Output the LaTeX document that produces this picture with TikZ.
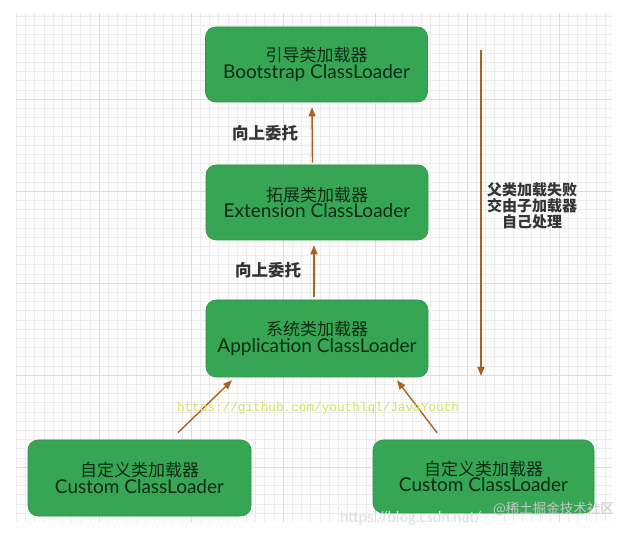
\documentclass[tikz,border=0pt]{standalone}
\usepackage{fontspec}
\setmainfont{Lato}
\newfontfamily\cjk{Noto Sans CJK SC}
\newfontfamily\monof{Liberation Mono}
\usetikzlibrary{arrows.meta}
\definecolor{boxgreen}{RGB}{54,166,84}
\definecolor{boxedge}{RGB}{44,150,72}
\definecolor{boxtext}{RGB}{16,42,22}
\definecolor{arrowc}{RGB}{168,98,38}
\definecolor{labeltext}{RGB}{52,52,52}
\definecolor{gridminor}{RGB}{236,236,236}
\definecolor{gridmajor}{RGB}{220,220,220}
\definecolor{ghcol}{RGB}{214,226,96}
\lineskiplimit=-100pt
\newcommand{\cnline}[1]{{\cjk\fontsize{17}{16.5}\selectfont #1}}
\begin{document}
\begin{tikzpicture}[x=1pt,y=-1pt,
  loaderbox/.style={draw=boxedge,fill=boxgreen,rounded corners=10pt,line width=0.6pt,
    minimum width=222pt,minimum height=75pt,inner sep=0pt,align=center,text=boxtext,
    font=\fontsize{19}{16.5}\selectfont},
  arr/.style={draw=arrowc,line width=1.4pt,-{Triangle[length=9pt,width=7pt]}},
  cnlabel/.style={text=labeltext,font=\cjk\fontsize{16.5}{16}\selectfont\bfseries,inner sep=0pt,align=center},
  minorline/.style={draw=gridminor,line width=0.4pt},
  majorline/.style={draw=gridmajor,line width=0.7pt}]
\useasboundingbox (0,0) rectangle (624,534);
\fill[white] (0,0) rectangle (624,534);
\fill[black!1] (16,13) rectangle (612,522);
\foreach \i in {1,...,65} {\draw[minorline] ({7+9.2*\i},13) -- ({7+9.2*\i},522);}
\foreach \j in {1,...,55} {\draw[minorline] (16,{7+9.2*\j}) -- (612,{7+9.2*\j});}
\foreach \i in {1,...,6} {\draw[majorline] ({7+92*\i},13) -- ({7+92*\i},522);}
\foreach \j in {1,...,5} {\draw[majorline] (16,{7+92*\j}) -- (612,{7+92*\j});}

\node[loaderbox] (boot) at (316.5,64.5) {\cnline{引导类加载器}\\Bootstrap ClassLoader};
\node[loaderbox] (ext) at (317,202.5) {\cnline{拓展类加载器}\\Extension ClassLoader};
\node[loaderbox,minimum height=77pt] (app) at (317,338.5) {\cnline{系统类加载器}\\Application ClassLoader};
\node[loaderbox,minimum width=223pt,minimum height=76pt] (cl) at (139.5,478) {\cnline{自定义类加载器}\\Custom ClassLoader};
\node[loaderbox,minimum width=221pt,minimum height=73pt] (cr) at (483.5,476.5) {\cnline{自定义类加载器}\\Custom ClassLoader};

\draw[arr] ([xshift=-4.5pt,yshift=2pt]ext.north) -- ([xshift=-4.5pt,yshift=-5pt]boot.south);
\draw[arr] ([xshift=-3pt,yshift=3pt]app.north) -- ([xshift=-3pt,yshift=-5pt]ext.south);
\draw[arr] ([xshift=38.5pt,yshift=7pt]cl.north) -- ([xshift=-85pt,yshift=-3pt]app.south);
\draw[arr] ([xshift=-46.5pt,yshift=7pt]cr.north) -- ([xshift=80pt,yshift=-3pt]app.south);

\coordinate (rtop) at (481,50);
\coordinate (rbot) at (481,376);
\draw[arr,line width=1.2pt] (rtop) -- (rbot);

\node[cnlabel] (up1) at (265,133) {向上委托};
\node[cnlabel] (up2) at (268,270) {向上委托};
\node[cnlabel,font=\cjk\fontsize{15}{16}\selectfont\bfseries] (fail) at (532,206) {父类加载失败\\交由子加载器\\自己处理};

\node[text=ghcol,font=\monof\fontsize{12.7}{13}\selectfont,inner sep=0pt] (gh) at (318,408) {https://github.com/youthlql/JavaYouth};
\node[text=black!12,font=\fontsize{15}{15}\selectfont,inner sep=0pt,anchor=west] (csdn) at (340,518) {https://blog.csdn.net/};
\node[text=black!22,font=\cjk\fontsize{13.5}{14}\selectfont,inner sep=0pt,anchor=west] (jj) at (493,509) {@稀土掘金技术社区};
\end{tikzpicture}
\end{document}
